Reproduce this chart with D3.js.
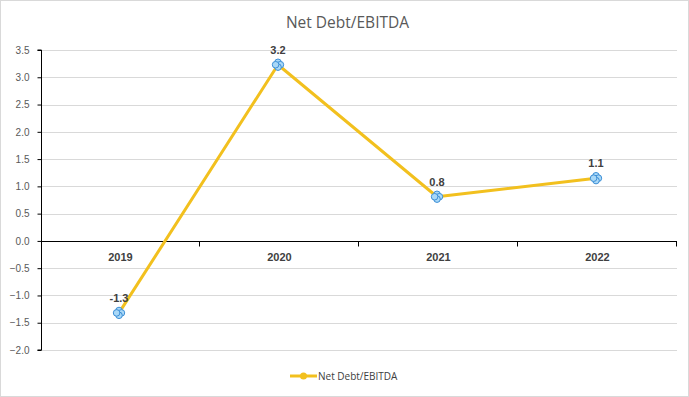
<!DOCTYPE html>
<html>
<head>
<meta charset="utf-8">
<style>
  body { margin: 0; background: #fff; }
  text { font-family: "Liberation Sans", Arial, sans-serif; }
</style>
</head>
<body>
<div id="chart-area"></div>
<script src="https://d3js.org/d3.v7.min.js"></script>
<script>
    const years = ["2019", "2020", "2021", "2022"];
    const ratio = [-1.32, 3.23, 0.81, 1.15];
    const ratioLabels = ["-1.3", "3.2", "0.8", "1.1"];
    const yTicks = [-2.0, -1.5, -1.0, -0.5, 0.0, 0.5, 1.0, 1.5, 2.0, 2.5, 3.0, 3.5];
    const seriesName = "Net Debt/EBITDA";

    const width = 689, height = 397;
    const plotLeft = 41, plotRight = 677, plotTop = 50, plotBottom = 350;

    const svg = d3.select("#chart-area").append("svg")
        .attr("width", width)
        .attr("height", height);

    svg.append("rect")
        .attr("x", 0.5).attr("y", 0.5)
        .attr("width", width - 1).attr("height", height - 1)
        .attr("fill", "#fff").attr("stroke", "#d9d9d9");

    const x = d3.scaleBand().domain(years).range([plotLeft, plotRight]);
    const y = d3.scaleLinear().domain([-2, 3.5]).range([plotBottom, plotTop]);

    // title
    svg.append("text")
        .attr("x", width / 2 + 3).attr("y", 28)
        .attr("text-anchor", "middle")
        .attr("fill", "#595959")
        .style("font-family", "'Open Sans', sans-serif")
        .style("font-size", "15.5px")
        .text(seriesName);

    // gridlines
    svg.append("g")
        .selectAll("line")
        .data(yTicks.filter(d => d !== 0))
        .join("line")
        .attr("x1", plotLeft).attr("x2", plotRight)
        .attr("y1", d => Math.round(y(d)) + 0.5)
        .attr("y2", d => Math.round(y(d)) + 0.5)
        .attr("stroke", "#d9d9d9");

    // y axis
    const yAxis = svg.append("g")
        .attr("transform", `translate(${plotLeft + 0.5},0)`)
        .call(d3.axisLeft(y).tickValues(yTicks).tickFormat(d3.format(".1f")).tickSize(4).tickPadding(8));
    yAxis.select(".domain").attr("stroke", "#000").attr("d", `M-4,${y(3.5)}H0V${y(-2)}H-4`);
    yAxis.selectAll(".tick line").attr("stroke", "#000");
    yAxis.selectAll(".tick text")
        .attr("fill", "#595959")
        .style("font-size", "10px");

    // zero axis with category ticks
    const zy = Math.round(y(0)) + 0.5;
    const xAxis = svg.append("g")
        .attr("transform", `translate(0,${zy})`);
    xAxis.append("line")
        .attr("x1", plotLeft).attr("x2", plotRight)
        .attr("stroke", "#000");
    xAxis.selectAll(".cat-tick")
        .data(years)
        .join("line")
        .attr("class", "cat-tick")
        .attr("x1", d => Math.round(x(d) + x.bandwidth()) - 0.5)
        .attr("x2", d => Math.round(x(d) + x.bandwidth()) - 0.5)
        .attr("y1", 0).attr("y2", 5)
        .attr("stroke", "#000");
    xAxis.selectAll(".cat-label")
        .data(years)
        .join("text")
        .attr("class", "cat-label")
        .attr("x", d => x(d) + x.bandwidth() / 2)
        .attr("y", 19)
        .attr("text-anchor", "middle")
        .attr("fill", "#404040")
        .style("font-size", "11px")
        .style("font-weight", "bold")
        .text(d => d);

    // line
    const cx = d => x(d) + x.bandwidth() / 2 - 1.5;
    const line = d3.line()
        .x((d, i) => cx(years[i]))
        .y(d => y(d));
    svg.append("path")
        .datum(ratio)
        .attr("d", line)
        .attr("fill", "none")
        .attr("stroke", "#f2c01e")
        .attr("stroke-width", 3)
        .attr("stroke-linejoin", "round");

    // markers: quatrefoil of four small circles
    const offs = [[0, -2.4], [2.4, 0], [0, 2.4], [-2.4, 0]];
    const markers = svg.append("g")
        .selectAll("g")
        .data(ratio)
        .join("g")
        .attr("transform", (d, i) => `translate(${cx(years[i])},${y(d)})`);
    markers.each(function() {
        d3.select(this).selectAll("circle")
            .data(offs)
            .join("circle")
            .attr("cx", o => o[0]).attr("cy", o => o[1])
            .attr("r", 3.3)
            .attr("fill", "#a9d8f7")
            .attr("stroke", "#3d8fd6")
            .attr("stroke-width", 1);
    });

    // data labels
    svg.append("g")
        .selectAll("text")
        .data(ratio)
        .join("text")
        .attr("x", (d, i) => cx(years[i]))
        .attr("y", d => y(d) - 11)
        .attr("text-anchor", "middle")
        .attr("fill", "#404040")
        .style("font-size", "11px")
        .style("font-weight", "bold")
        .text((d, i) => ratioLabels[i]);

    // legend
    const lg = svg.append("g").attr("transform", "translate(290,376)");
    lg.append("line")
        .attr("x1", 0).attr("x2", 27)
        .attr("stroke", "#f2c01e").attr("stroke-width", 3);
    lg.append("circle")
        .attr("cx", 13.5).attr("r", 3.5)
        .attr("fill", "#f2c01e");
    lg.append("text")
        .attr("x", 28).attr("y", 4)
        .attr("fill", "#404040")
        .style("font-family", "'Open Sans', sans-serif")
        .style("font-size", "10px")
        .text(seriesName);
</script>
</body>
</html>
